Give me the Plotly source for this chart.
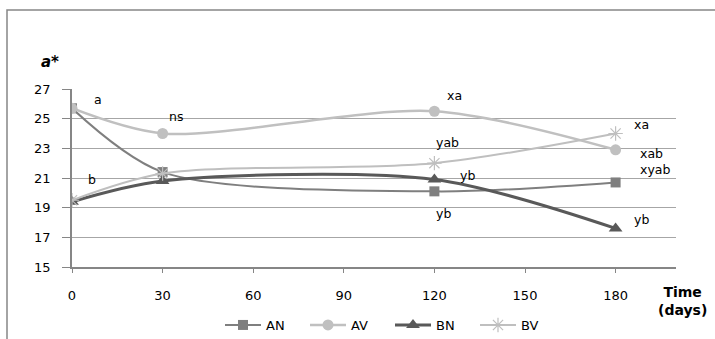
import plotly.graph_objects as go

days = [0, 30, 120, 180]
AN = [25.7, 21.4, 20.1, 20.7]
AV = [25.7, 24.0, 25.5, 22.9]
BN = [19.4, 20.8, 20.9, 17.6]
BV = [19.5, 21.3, 22.0, 24.0]

x_ticks = [0, 30, 60, 90, 120, 150, 180]
y_ticks = [15, 17, 19, 21, 23, 25, 27]

# significance letters: (text, x, y)
labels_text = ["a", "ns", "xa", "yab", "xa", "xab", "xyab", "b", "yb", "yb", "yb"]
labels_x = [6.5, 31.5, 123.5, 119.9, 185.5, 187.5, 187.5, 4.6, 127.8, 119.9, 185.5]
labels_y = [26.26, 25.18, 26.53, 23.36, 24.64, 22.62, 21.6, 20.93, 21.2, 18.64, 18.17]

FONT = "DejaVu Sans"
SM = 0.85

fig = go.Figure()
fig.add_trace(go.Scatter(x=days, y=AN, name="AN", mode="lines+markers",
                         line=dict(color="#7f7f7f", width=2, shape="spline", smoothing=SM),
                         marker=dict(symbol="square", size=10, color="#7f7f7f")))
fig.add_trace(go.Scatter(x=days, y=AV, name="AV", mode="lines+markers",
                         line=dict(color="#c0c0c0", width=2.5, shape="spline", smoothing=SM),
                         marker=dict(symbol="circle", size=11, color="#c0c0c0")))
fig.add_trace(go.Scatter(x=days, y=BN, name="BN", mode="lines+markers",
                         line=dict(color="#595959", width=3, shape="spline", smoothing=SM),
                         marker=dict(symbol="triangle-up", size=12, color="#595959")))
fig.add_trace(go.Scatter(x=days, y=BV, name="BV", mode="lines+markers",
                         line=dict(color="#bfbfbf", width=2, shape="spline", smoothing=SM),
                         marker=dict(symbol="asterisk-open", size=12,
                                     line=dict(color="#8c8c8c", width=1.2))))

for t, x, y in zip(labels_text, labels_x, labels_y):
    fig.add_annotation(x=x, y=y, text=t, showarrow=False, xanchor="left", yanchor="middle",
                       font=dict(family=FONT, size=12.5, color="#000000"))

fig.add_annotation(xref="paper", yref="paper", x=(50 - 72) / 604, y=(267 - 62) / 178,
                   text="<b><i>a*</i></b>", showarrow=False, xanchor="center", yanchor="middle",
                   font=dict(family=FONT, size=15, color="#000000"))
fig.add_annotation(xref="paper", yref="paper", x=(682 - 72) / 604, y=(267 - 301) / 178,
                   text="<b>Time<br>(days)</b>", showarrow=False, xanchor="center", yanchor="middle",
                   font=dict(family=FONT, size=14, color="#000000"))

# outer chart border (extends past the visible window on right and bottom)
fig.add_shape(type="rect", xref="paper", yref="paper",
              x0=(7 - 72) / 604, x1=(730 - 72) / 604,
              y0=(267 - 360) / 178, y1=(267 - 10) / 178,
              line=dict(color="#868686", width=1.5), fillcolor="rgba(0,0,0,0)", layer="below")

fig.update_layout(
    width=715, height=339,
    margin=dict(l=72, r=39, t=89, b=72, autoexpand=False),
    paper_bgcolor="white", plot_bgcolor="white",
    font=dict(family=FONT, size=12.5, color="#000000"),
    showlegend=True,
    legend=dict(orientation="h", x=220 / 715, y=1 - 325 / 339, xref="container", yref="container",
                xanchor="left", yanchor="middle", entrywidth=34, entrywidthmode="pixels",
                font=dict(family=FONT, size=13), itemwidth=36, bgcolor="rgba(0,0,0,0)"),
    xaxis=dict(range=[0, 200], tickvals=x_ticks, ticks="outside", ticklen=4,
               tickcolor="#868686", showgrid=False, zeroline=False, automargin=False,
               showline=True, linecolor="#868686", linewidth=1.5, ticklabelstandoff=12,
               tickfont=dict(family=FONT, size=13)),
    yaxis=dict(range=[15, 27], tickvals=y_ticks, ticks="outside", ticklen=8, automargin=False,
               tickcolor="#868686", showgrid=True, gridcolor="#a6a6a6", gridwidth=1.2,
               zeroline=False, showline=True, linecolor="#868686", linewidth=1.5,
               ticklabelstandoff=9, tickfont=dict(family=FONT, size=13)),
)

fig.write_html("out.html")
